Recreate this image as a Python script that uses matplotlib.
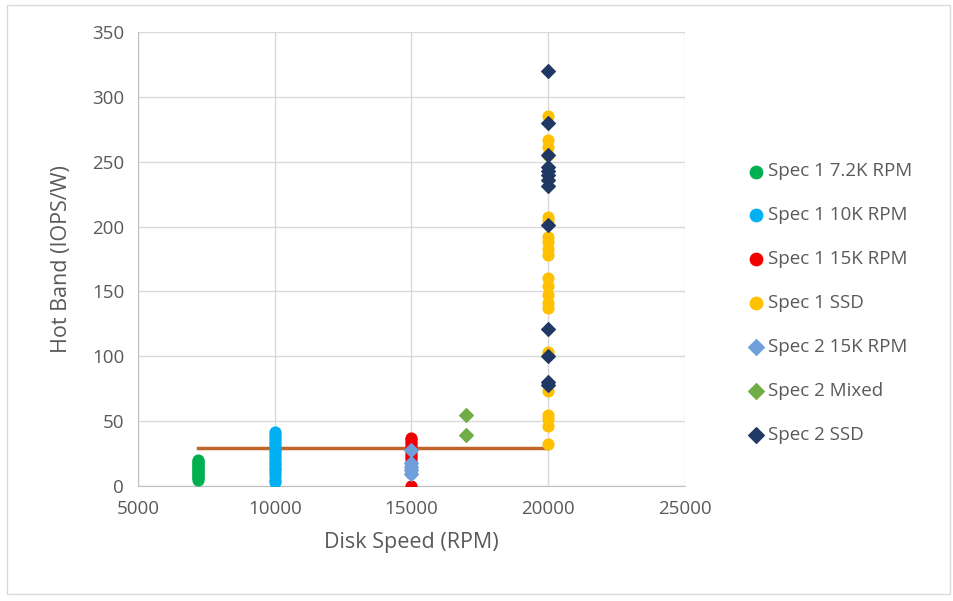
import matplotlib
matplotlib.use("Agg")
import matplotlib.pyplot as plt
from matplotlib.patches import Rectangle

# ---- data ----
series_names = ["Spec 1 7.2K RPM", "Spec 1 10K RPM", "Spec 1 15K RPM", "Spec 1 SSD",
                "Spec 2 15K RPM", "Spec 2 Mixed", "Spec 2 SSD"]

s1_72k_x = 7200
s1_72k_y = [5, 6, 7, 8, 9, 10, 11, 12, 13, 14, 15, 16, 17, 18, 19, 20]

s1_10k_x = 10000
s1_10k_y = [3, 5, 8, 10, 12, 14, 16, 18, 20, 22, 24, 26, 28, 30, 32, 34, 36, 38, 40, 42]

s1_15k_x = 15000
s1_15k_y = [0, 10, 14, 17, 20, 22, 24, 26, 28, 30, 32, 34, 36, 37]

s1_ssd_x = 20000
s1_ssd_y = [32, 46, 52, 55, 73, 78, 101, 103, 137, 141, 147, 154, 160, 178, 183, 188,
            192, 204, 207, 255, 261, 267, 285]

s2_15k_x = 15000
s2_15k_y = [9, 12, 15, 18, 28]

s2_mixed_x = 17000
s2_mixed_y = [39, 55]

s2_ssd_x = 20000
s2_ssd_y = [78, 80, 100, 121, 201, 231, 236, 240, 243, 246, 255, 280, 320]

line_x = [7200, 20000]
line_y = [29, 29]

x_ticks = [5000, 10000, 15000, 20000, 25000]
y_ticks = [0, 50, 100, 150, 200, 250, 300, 350]

# ---- style ----
plt.rcParams['font.family'] = ['Open Sans', 'DejaVu Sans']
text_color = "#595959"
grid_color = "#D9D9D9"

fig = plt.figure(figsize=(9.54, 6.01), dpi=100)
fig.patch.set_facecolor("white")
ax = fig.add_axes([138/954, 1-486/601, (685-138)/954, (486-32)/601])

ax.plot(line_x, line_y, color="#C0652B", lw=2.5, zorder=2)

ms = 60
md = 48
ax.scatter([s1_72k_x]*len(s1_72k_y), s1_72k_y, s=ms, color="#00B050", marker="o", label=series_names[0], zorder=3)
ax.scatter([s1_10k_x]*len(s1_10k_y), s1_10k_y, s=ms, color="#00B0F0", marker="o", label=series_names[1], zorder=3)
ax.scatter([s1_15k_x]*len(s1_15k_y), s1_15k_y, s=ms, color="#F00000", marker="o", label=series_names[2], zorder=3)
ax.scatter([s1_ssd_x]*len(s1_ssd_y), s1_ssd_y, s=ms, color="#FFC000", marker="o", label=series_names[3], zorder=3)
ax.scatter([s2_15k_x]*len(s2_15k_y), s2_15k_y, s=md, color="#6FA0DC", marker="D", label=series_names[4], zorder=4)
ax.scatter([s2_mixed_x]*len(s2_mixed_y), s2_mixed_y, s=md, color="#70AD47", marker="D", label=series_names[5], zorder=4)
ax.scatter([s2_ssd_x]*len(s2_ssd_y), s2_ssd_y, s=md, color="#203864", marker="D", label=series_names[6], zorder=4)

ax.set_xlim(5000, 25000)
ax.set_ylim(0, 350)
ax.set_xticks(x_ticks)
ax.set_yticks(y_ticks)
ax.grid(True, color=grid_color, lw=1)
ax.set_axisbelow(True)
for sp in ax.spines.values():
    sp.set_visible(False)
ax.spines['left'].set_visible(True)
ax.spines['left'].set_color("#BFBFBF")
ax.spines['bottom'].set_visible(True)
ax.spines['bottom'].set_color("#BFBFBF")
ax.tick_params(length=0, labelsize=13.5, labelcolor=text_color, pad=10)

ax.set_xlabel("Disk Speed (RPM)", fontsize=15.5, color=text_color, labelpad=10)
ax.set_ylabel("Hot Band (IOPS/W)", fontsize=15.5, color=text_color, labelpad=14)

leg = ax.legend(loc="upper left", bbox_to_anchor=(739/954, 1-155/601), bbox_transform=fig.transFigure,
                frameon=False, fontsize=13.5, labelspacing=1.38, handletextpad=0.15,
                handlelength=1.0, borderaxespad=0, scatterpoints=1, markerscale=1.15)
for t in leg.get_texts():
    t.set_color(text_color)

fig.patches.append(Rectangle((7/954, 1-594/601), (950-7)/954, (594-5)/601,
                             transform=fig.transFigure, fill=False, edgecolor="#D9D9D9", lw=1))

fig.savefig("out.png", dpi=100)
